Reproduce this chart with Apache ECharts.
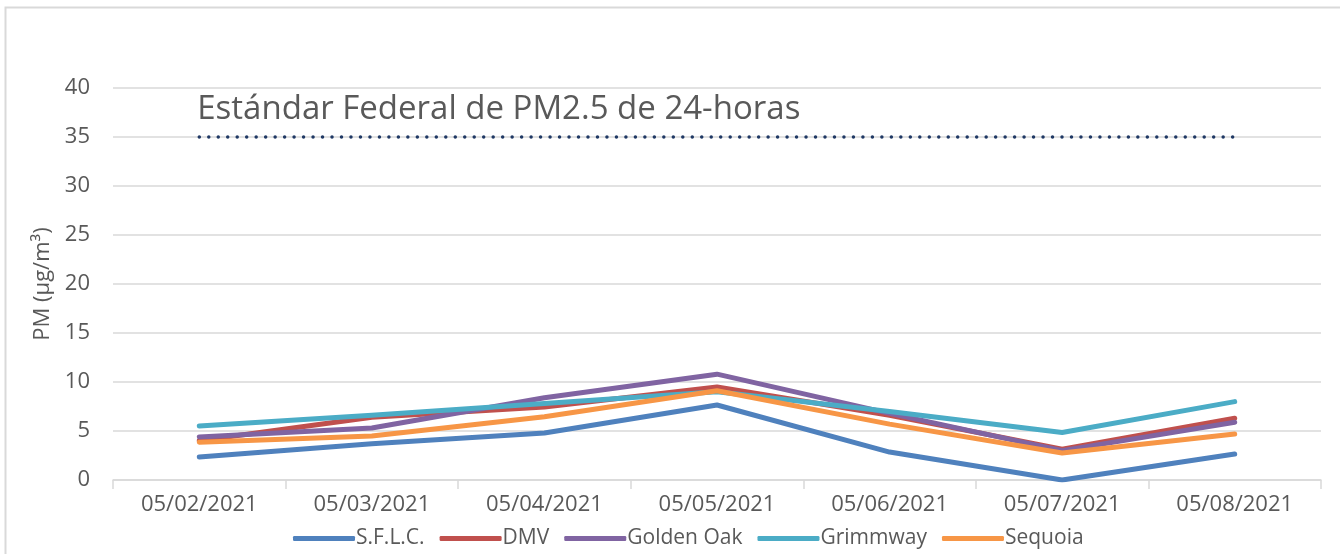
<!DOCTYPE html>
<html><head><meta charset="utf-8">
<script src="https://cdn.jsdelivr.net/npm/echarts@6/dist/echarts.min.js"></script>
<style>html,body{margin:0;padding:0;background:#fff}#c{width:1340px;height:554px}</style>
</head><body><div id="c"></div>
<script>
const categories = ['05/02/2021','05/03/2021','05/04/2021','05/05/2021','05/06/2021','05/07/2021','05/08/2021'];
const sflc      = [2.35, 3.7, 4.8, 7.65, 2.85, 0.0, 2.65];
const dmv       = [4.0, 6.4, 7.45, 9.5, 6.6, 3.15, 6.3];
const goldenOak = [4.4, 5.3, 8.4, 10.8, 6.8, 3.0, 5.9];
const grimmway  = [5.5, 6.6, 7.8, 9.0, 7.0, 4.85, 8.0];
const sequoia   = [3.85, 4.5, 6.45, 9.1, 5.7, 2.75, 4.7];
const standard  = [35, 35, 35, 35, 35, 35, 35];
const seriesNames = ['S.F.L.C.','DMV','Golden Oak','Grimmway','Sequoia'];
const colors = ['#4F81BD','#C0504D','#8064A2','#4BACC6','#F79646'];
const yTicks = {min:0, max:40, interval:5};
const stdLabel = 'Estándar Federal de PM2.5 de 24-horas';

const font = '"Open Sans", Calibri, "Liberation Sans", sans-serif';
const chart = echarts.init(document.getElementById('c'), null, {renderer:'canvas'});
const dataSets = [sflc, dmv, goldenOak, grimmway, sequoia];
const lineSeries = dataSets.map((d,i)=>({
  name: seriesNames[i], type:'line', data:d, symbol:'none', smooth:false,
  lineStyle:{width:5, color:colors[i], cap:'round', join:'round'}, itemStyle:{color:colors[i]},
  z: 3
}));
lineSeries.push({
  name:'std', type:'line', data:standard, symbol:'none',
  lineStyle:{width:3.5, color:'#1F3864', type:[0,9.5], cap:'round'},
  z: 4
});

chart.setOption({
  animation:false,
  backgroundColor:'#fff',
  grid:{left:113, right:19, top:88, bottom:74, containLabel:false},
  legend:{
    data:seriesNames, bottom:0, left:288, itemWidth:62, itemHeight:5, itemGap:15,
    icon:'roundRect',
    textStyle:{color:'#595959', fontSize:21, fontFamily:font, padding:[0,0,0,-4]}
  },
  xAxis:{
    type:'category', data:categories, boundaryGap:true,
    axisLine:{lineStyle:{color:'#D9D9D9', width:1.5}},
    axisTick:{show:true, length:9, lineStyle:{color:'#D9D9D9', width:1.5}, alignWithLabel:false},
    axisLabel:{color:'#595959', fontSize:22, fontFamily:font, margin:14}
  },
  yAxis:{
    type:'value', min:yTicks.min, max:yTicks.max, interval:yTicks.interval,
    name:'PM (µg/m³)', nameLocation:'middle', nameGap:58, nameRotate:90,
    nameTextStyle:{color:'#595959', fontSize:22, fontFamily:font},
    axisLine:{show:false}, axisTick:{show:false},
    splitLine:{lineStyle:{color:'#D9D9D9', width:1.5}},
    axisLabel:{color:'#595959', fontSize:22, fontFamily:font, margin:23}
  },
  series: lineSeries
});

const p = chart.convertToPixel({xAxisIndex:0, yAxisIndex:0}, [0, standard[0]]);
const pe = chart.convertToPixel({xAxisIndex:0, yAxisIndex:0}, [categories.length-1, standard[standard.length-1]]);
const span = pe[0] - p[0];
const gap = span / Math.round(span / 9.5) * 0.998;
chart.setOption({
  series: dataSets.map(()=>({})).concat([{lineStyle:{type:[0.01, gap - 0.01]}}]),
  graphic:[
    {type:'rect', shape:{x:5.5,y:7.5,width:1400,height:600},
     style:{fill:'none', stroke:'#D9D9D9', lineWidth:2}, z:-1, silent:true},
    {type:'text', x:p[0]-2, y:p[1]-27, z:10,
     style:{text:stdLabel, fill:'#595959', font:'33px ' + font, textVerticalAlign:'middle', textAlign:'left'}}
  ]
});
</script></body></html>
